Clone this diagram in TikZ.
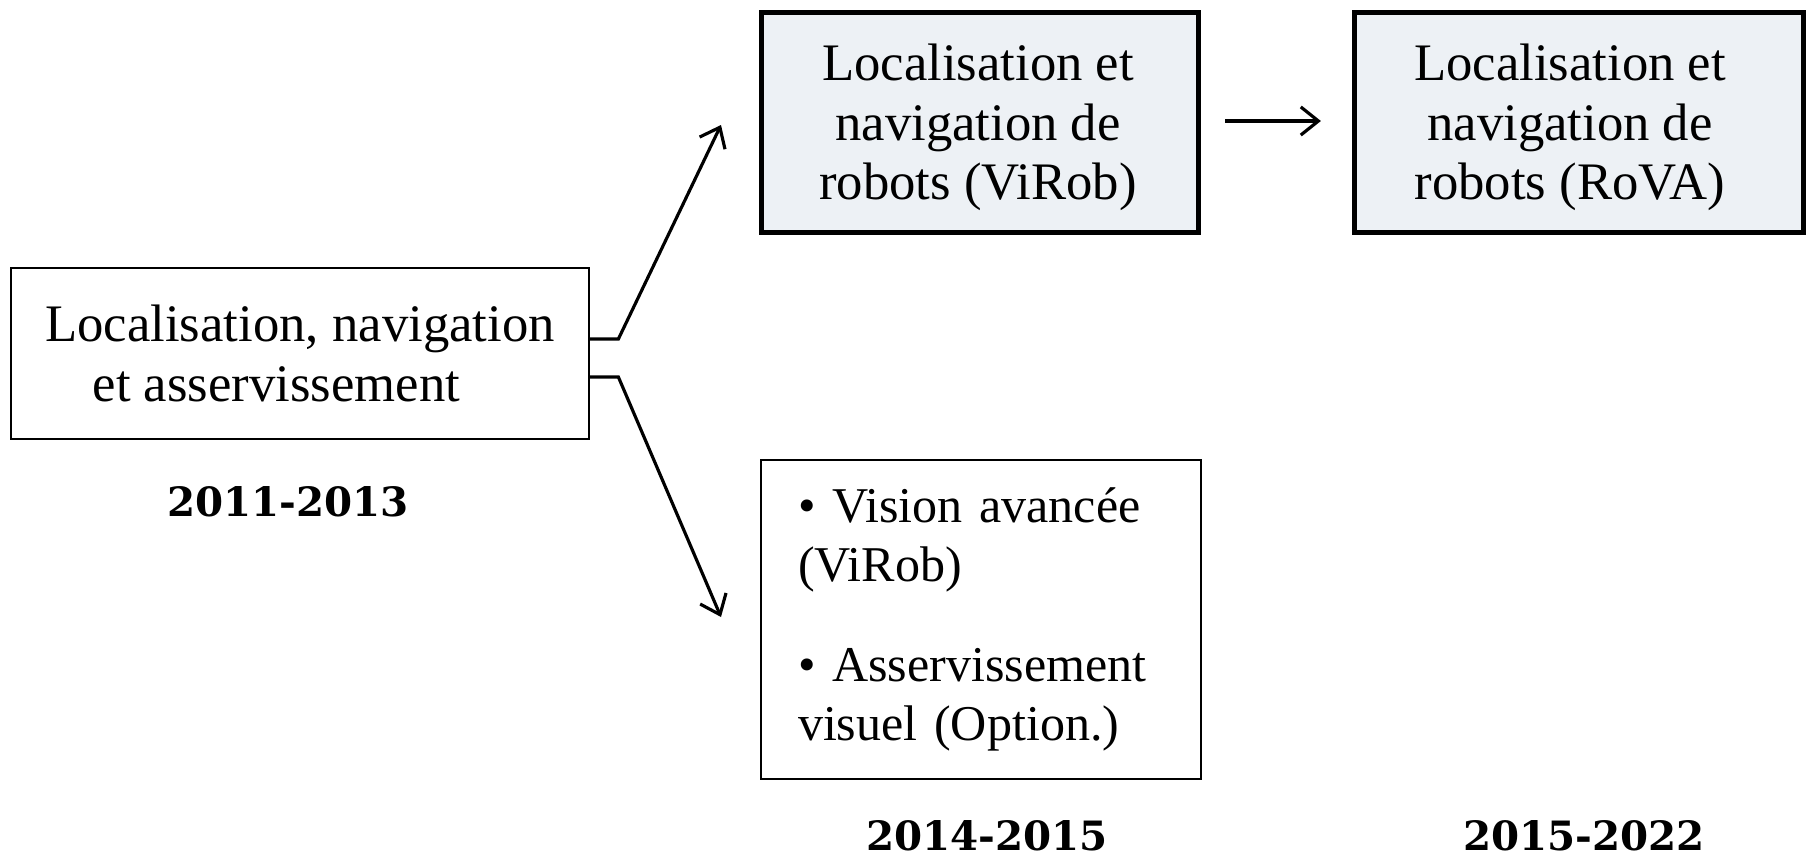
\documentclass[tikz,border=0pt]{standalone}
\usepackage{fontspec}
\setmainfont{Liberation Serif}
\newfontfamily\yearfont{DejaVu Serif}
\usetikzlibrary{arrows.meta,calc}
\definecolor{boxfill}{HTML}{EDF1F5}
\begin{document}
\begin{tikzpicture}[x=0.02cm,y=-0.02cm,
  boxtext/.style={font=\fontsize{30pt}{34pt}\selectfont},
  thickbox/.style={draw=black,line width=3pt,fill=boxfill,inner sep=0pt},
  thinbox/.style={draw=black,line width=1pt,fill=white,inner sep=0pt},
  yearlabel/.style={font=\yearfont\bfseries\fontsize{23pt}{26pt}\selectfont},
  arr/.style={line width=1.8pt,-{Straight Barb[length=10pt,width=16pt,line width=1.8pt]}}
]
\useasboundingbox (0,0) rectangle (1809,859);
% left box
\node[thinbox,minimum width=578*0.02cm,minimum height=171*0.02cm,align=left,boxtext] (lb) at (300,353.6)
  {Localisation, navigation\\\hspace*{27pt}et asservissement};
\node[yearlabel] (y1) at (288,502) {2011-2013};
% top boxes
\node[thickbox,minimum width=437*0.02cm,minimum height=220*0.02cm,
  label={[boxtext,align=center,yshift=-5*0.02cm,xshift=-2*0.02cm]center:{Localisation et\\navigation de\\robots (ViRob)}}] (b1) at (980,122.5) {};
\node[thickbox,minimum width=449*0.02cm,minimum height=220*0.02cm,
  label={[boxtext,align=center,yshift=-5*0.02cm,xshift=-9*0.02cm]center:{Localisation et\\navigation de\\robots (RoVA)}}] (b2) at (1579,122.5) {};
% bullet box
\node[thinbox,minimum width=440*0.02cm,minimum height=319*0.02cm,text width=366*0.02cm,align=left,
  font=\fontsize{28.5pt}{33.6pt}\selectfont] (bb) at (981,619.5)
  {• Vision avancée\\(ViRob)\\[23pt]• Asservissement\\visuel (Option.)};
\node[yearlabel] (y2) at (987,836) {2014-2015};
\node[yearlabel] (y3) at (1584,836) {2015-2022};
% connectors
\coordinate (t1) at (721,125);
\coordinate (t2) at (721,617);
\coordinate (s1) at ($(lb.east)+(0,-14.6)$);
\coordinate (s2) at ($(lb.east)+(0,23.4)$);
\draw[arr] (s1) -- ++(28.5,0) -- (t1);
\draw[arr] (s2) -- ++(28.5,0) -- (t2);
\draw[arr,shorten <=24*0.02cm,shorten >=31*0.02cm] ($(b1.east)+(0,-1.5)$) -- ($(b2.west)+(0,-1.5)$);
\end{tikzpicture}
\end{document}
